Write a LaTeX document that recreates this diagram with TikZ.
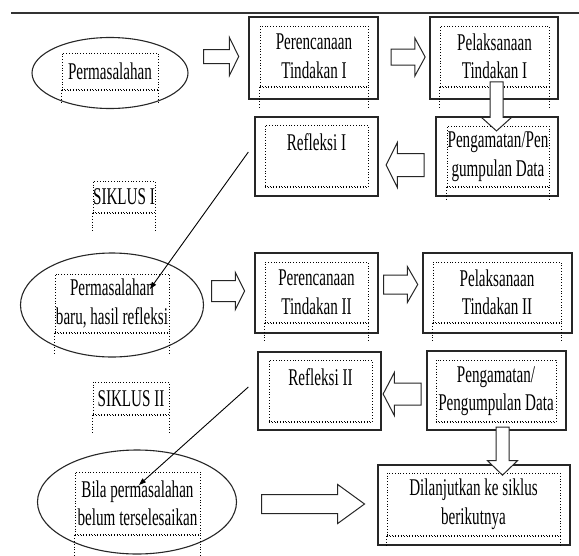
\documentclass[tikz,border=0pt]{standalone}
\usepackage{fontspec}
\setmainfont[FakeStretch=0.63]{Liberation Serif}
\usetikzlibrary{arrows.meta,shapes,calc,positioning}

\begin{document}
\begin{tikzpicture}[x=1pt,y=-1pt]
	\tikzstyle{every node}=[font=\fontsize{24}{28.5}\selectfont]
	\tikzstyle{solidbox}=[draw=black!85, line width=1.3pt, inner sep=0pt]
	\tikzstyle{dotbox}=[draw, dotted, line width=0.8pt, inner sep=0pt, align=center]
	\tikzstyle{oval}=[draw=black!85, ellipse, line width=1.1pt, inner sep=0pt]
	\tikzstyle{blockarrow}=[draw=black!85, single arrow, fill=white, line width=1pt, inner xsep=0pt, minimum width=0pt, single arrow head indent=0pt]
	\useasboundingbox (0,0) rectangle (579,555);
	\draw [line width=1.5pt, black!80] (11,13) -- (579,13);
	% siklus I
	\node [oval, minimum width=156pt, minimum height=71pt] (oval1) at (110,73) {};
	\node [dotbox, minimum width=96pt, minimum height=37pt] (masalah1) at (110,71.5) {Permasalahan};
	\node [solidbox, minimum width=129pt, minimum height=82pt] (renc1) at (313.5,58) {};
	\node [dotbox, minimum width=108pt, minimum height=61pt] (renc1t) at (314,56.5) {Perencanaan\\Tindakan I};
	\node [solidbox, minimum width=128pt, minimum height=82pt] (laks1) at (494,58) {};
	\node [dotbox, minimum width=109pt, minimum height=61pt] (laks1t) at (494.5,56.5) {Pelaksanaan\\Tindakan I};
	\node [solidbox, minimum width=122pt, minimum height=79pt] (amat1) at (497,156.5) {};
	\node [dotbox, minimum width=102pt, minimum height=61pt] (amat1t) at (498,156.5) {Pengamatan/Pen\\gumpulan Data};
	\node [solidbox, minimum width=123pt, minimum height=79pt] (refl1) at (316.5,156.5) {};
	\node [dotbox, minimum width=103pt, minimum height=62pt] (refl1t) at (316.5,156) {Refleksi I\\\mbox{}};
	\node [dotbox, minimum width=62pt, minimum height=32pt] (siklus1) at (124,197) {SIKLUS I};
	% siklus II
	\node [oval, minimum width=183pt, minimum height=104pt] (oval2) at (112,305) {};
	\node [dotbox, minimum width=114pt, minimum height=59pt] (masalah2) at (112,303.5) {Permasalahan\\baru, hasil refleksi};
	\node [solidbox, minimum width=123pt, minimum height=80pt] (renc2) at (316.5,293) {};
	\node [dotbox, minimum width=103pt, minimum height=61pt] (renc2t) at (316.5,292.5) {Perencanaan\\Tindakan II};
	\node [solidbox, minimum width=149pt, minimum height=80pt] (laks2) at (497.5,293) {};
	\node [dotbox, minimum width=128pt, minimum height=61pt] (laks2t) at (497,292.5) {Pelaksanaan\\Tindakan II};
	\node [solidbox, minimum width=123pt, minimum height=78pt] (refl2) at (319.5,391) {};
	\node [dotbox, minimum width=103pt, minimum height=62pt] (refl2t) at (320.5,391) {Refleksi II\\\mbox{}};
	\node [solidbox, minimum width=139pt, minimum height=79pt] (amat2) at (496.5,390.5) {};
	\node [dotbox, minimum width=120pt, minimum height=62pt] (amat2t) at (496,391) {Pengamatan/\\Pengumpulan Data};
	\node [dotbox, minimum width=76pt, minimum height=33pt] (siklus2) at (131,398.5) {SIKLUS II};
	% akhir
	\node [oval, minimum width=199pt, minimum height=104pt] (oval3) at (137,502) {};
	\node [dotbox, minimum width=125pt, minimum height=63pt] (bila) at (137.5,503.5) {Bila permasalahan\\belum terselesaikan};
	\node [solidbox, minimum width=192pt, minimum height=80pt] (lanjut) at (474,505) {};
	\node [dotbox, minimum width=173pt, minimum height=63pt] (lanjutt) at (473.5,504.5) {Dilanjutkan ke siklus\\berikutnya};
	% kaki kotak teks
	\foreach \n/\d in {masalah1/13, renc1t/21, laks1t/21, amat1t/13, refl1t/0, siklus1/19, masalah2/22, renc2t/19, laks2t/19, refl2t/0, amat2t/0, siklus2/17, bila/20, lanjutt/9} {
		\draw [dotted, line width=0.8pt] (\n.south west) -- ++(0,\d);
		\draw [dotted, line width=0.8pt] (\n.south east) -- ++(0,\d);
		\draw [dotted, line width=0.8pt] ([yshift=1.5pt]\n.south west) -- ([yshift=1.5pt]\n.south east);
	}
	% panah blok
	\node [blockarrow, minimum height=35pt, inner ysep=6.5pt, single arrow head extend=12pt, single arrow tip angle=128] (panah1) at (219.5,56.5) {};
	\node [blockarrow, minimum height=34pt, inner ysep=7.5pt, single arrow head extend=11pt, single arrow tip angle=123] (panah2) at (406,57) {};
	\node [blockarrow, rotate=-90, minimum height=49pt, inner ysep=6pt, single arrow head extend=8.5pt, single arrow tip angle=96] (panah3) at (496.5,103.5) {};
	\node [blockarrow, rotate=180, minimum height=38pt, inner ysep=11pt, single arrow head extend=11pt, single arrow tip angle=127] (panah4) at (408,165) {};
	\node [blockarrow, minimum height=33pt, inner ysep=10pt, single arrow head extend=8pt, single arrow tip angle=127] (panah5) at (225.5,291) {};
	\node [blockarrow, minimum height=34pt, inner ysep=9pt, single arrow head extend=8.5pt, single arrow tip angle=120] (panah6) at (398,284.5) {};
	\node [blockarrow, rotate=180, minimum height=38pt, inner ysep=10.5pt, single arrow head extend=10.5pt, single arrow tip angle=125] (panah7) at (405,394) {};
	\node [blockarrow, rotate=-90, minimum height=48pt, inner ysep=6pt, single arrow head extend=8.5pt, single arrow tip angle=92] (panah8) at (502.5,448) {};
	\node [blockarrow, minimum height=103pt, inner ysep=9pt, single arrow head extend=10pt, single arrow tip angle=72] (panah9) at (306.5,504) {};
	% garis refleksi
	\coordinate (ujung1) at (150,289);
	\coordinate (ujung2) at (139,485);
	\draw [line width=0.9pt, -{Triangle[length=7pt,width=5pt]}] ([shift={(-6,-4.5)}]refl1.west) -- (ujung1);
	\draw [line width=0.9pt, -{Triangle[length=7pt,width=5pt]}] ([shift={(-9,-4)}]refl2.west) -- (ujung2);
\end{tikzpicture}
\end{document}
